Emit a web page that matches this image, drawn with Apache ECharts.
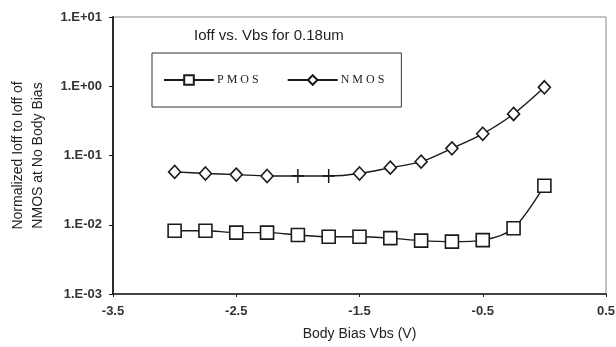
<!DOCTYPE html>
<html>
<head>
<meta charset="utf-8">
<script src="https://cdn.jsdelivr.net/npm/echarts@6/dist/echarts.min.js"></script>
<style>
  html, body { margin: 0; padding: 0; background: #fff; }
  #chart { width: 616px; height: 347px; }
</style>
</head>
<body>
<div id="chart"></div>
<script>
// body bias (V)
const vbs = [-3, -2.75, -2.5, -2.25, -2, -1.75, -1.5, -1.25, -1, -0.75, -0.5, -0.25, 0];
// normalized Ioff
const pmos = [0.0082, 0.0082, 0.0077, 0.0077, 0.0071, 0.0067, 0.0067, 0.0064, 0.0059, 0.0057, 0.006, 0.0089, 0.0366];
const nmos = [0.058, 0.055, 0.053, 0.0506, 0.0506, 0.0506, 0.055, 0.0667, 0.0814, 0.127, 0.206, 0.398, 0.966];
// nmos points drawn as "+" in the original
const plusIdx = [4, 5];

const yLabel = {
  '10': '1.E+01', '1': '1.E+00', '0.1': '1.E-01', '0.01': '1.E-02', '0.001': '1.E-03'
};

const plusPath = 'path://M5,0 L5,10 M0,5 L10,5';
const ink = '#1a1a1a';
const sans = 'Arial, Liberation Sans, sans-serif';

const chart = echarts.init(document.getElementById('chart'));

chart.setOption({
  animation: false,
  backgroundColor: '#fff',
  title: {
    text: 'Ioff vs. Vbs for 0.18um',
    left: 189, top: 23,
    textStyle: { fontFamily: sans, fontSize: 15, fontWeight: 'normal', color: '#222' }
  },
  legend: {
    left: 152, top: 53,
    padding: [21, 17, 21, 11],
    borderColor: '#333', borderWidth: 1,
    itemWidth: 50, itemHeight: 12, itemGap: 28,
    textStyle: { fontFamily: 'Liberation Serif, Times New Roman, serif', fontSize: 12, color: '#222', padding: [0, 0, 0, -2] },
    formatter: n => n.split('').join(' '),
    data: ['PMOS', 'NMOS']
  },
  grid: {
    left: 113, right: 10, top: 17, bottom: 53,
    outerBoundsMode: 'none',
    containLabel: false,
    show: true, borderColor: '#888', borderWidth: 1, backgroundColor: 'transparent'
  },
  xAxis: {
    type: 'value',
    min: -3.5, max: 0.5, interval: 1,
    name: 'Body Bias Vbs (V)',
    nameLocation: 'middle', nameGap: 33,
    nameTextStyle: { fontFamily: sans, fontSize: 14, color: '#222' },
    axisLine: { onZero: false, lineStyle: { color: ink, width: 1.5 } },
    axisTick: { show: true, length: 3, lineStyle: { color: ink } },
    axisLabel: { fontFamily: sans, fontSize: 13, fontWeight: 'bold', color: '#333', margin: 11 },
    splitLine: { show: false }
  },
  yAxis: {
    type: 'log', logBase: 10,
    min: 0.001, max: 10,
    name: 'Normalized Ioff to Ioff of\nNMOS at No Body Bias',
    nameLocation: 'middle', nameGap: 65, nameRotate: 90,
    nameTextStyle: { fontFamily: sans, fontSize: 14, color: '#222', lineHeight: 20 },
    axisLine: { show: true, onZero: false, lineStyle: { color: ink, width: 1.8 } },
    axisTick: { show: true, inside: false, length: 4, lineStyle: { color: ink } },
    minorTick: { show: false },
    axisLabel: {
      fontFamily: sans, fontSize: 13, fontWeight: 'bold', color: '#333', margin: 11,
      formatter: v => yLabel[String(+v.toPrecision(3))] || ''
    },
    splitLine: { show: false }
  },
  series: [
    {
      name: 'PMOS', type: 'line', smooth: 0.3,
      symbol: 'rect', symbolSize: 13,
      lineStyle: { color: ink, width: 1.4 },
      itemStyle: { color: '#fff', borderColor: ink, borderWidth: 1.6 },
      data: vbs.map((x, i) => [x, pmos[i]])
    },
    {
      name: 'NMOS', type: 'line', smooth: 0.3,
      symbol: 'diamond', symbolSize: [12, 13],
      lineStyle: { color: ink, width: 1.4 },
      itemStyle: { color: '#fff', borderColor: ink, borderWidth: 1.6 },
      data: vbs.map((x, i) => plusIdx.includes(i)
        ? { value: [x, nmos[i]], symbol: plusPath, symbolSize: [12, 14] }
        : [x, nmos[i]])
    }
  ]
});
</script>
</body>
</html>
